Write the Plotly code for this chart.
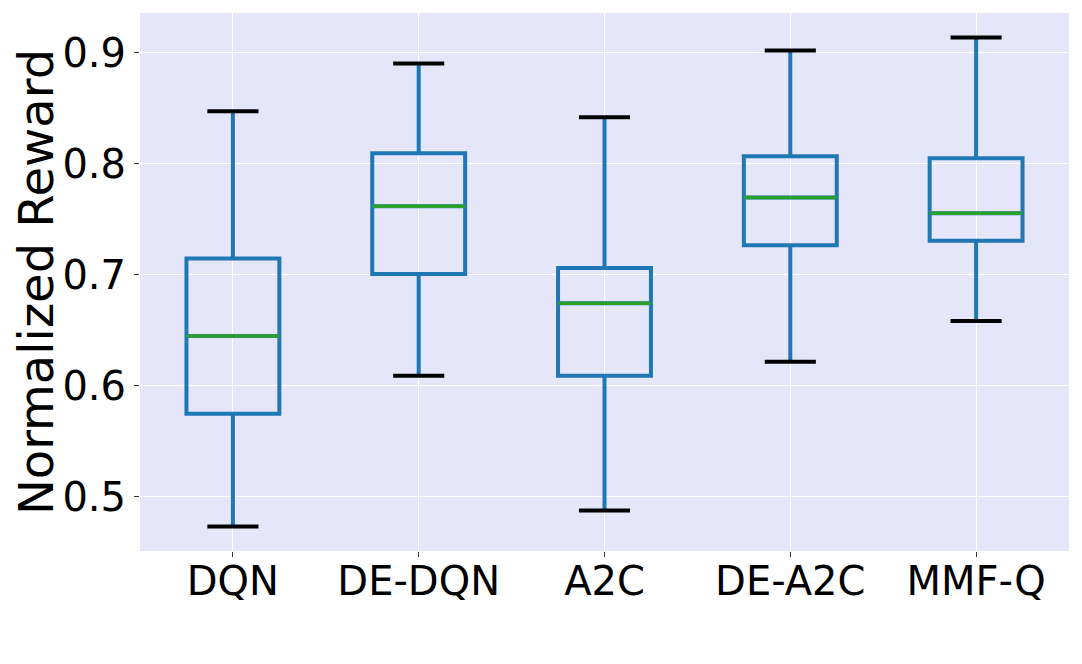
import plotly.graph_objects as go

categories = ["DQN", "DE-DQN", "A2C", "DE-A2C", "MMF-Q"]
lower_whisker = [0.4731, 0.6089, 0.4875, 0.6215, 0.6584]
q1_values = [0.5747, 0.7006, 0.6089, 0.7265, 0.7306]
median_values = [0.6449, 0.7618, 0.6743, 0.7696, 0.7555]
q3_values = [0.7147, 0.8094, 0.7060, 0.8067, 0.8050]
upper_whisker = [0.8472, 0.8904, 0.8418, 0.9020, 0.9138]
y_ticks = [0.5, 0.6, 0.7, 0.8, 0.9]
y_title = "Normalized Reward"

BLUE = "#1f77b4"
GREEN = "#2ca02c"
BOX_W = 0.5
CAP_W = 0.275

positions = list(range(1, len(categories) + 1))

fig = go.Figure()
fig.add_trace(go.Box(
    x=positions,
    q1=q1_values,
    median=median_values,
    q3=q3_values,
    lowerfence=lower_whisker,
    upperfence=upper_whisker,
    width=BOX_W,
    whiskerwidth=0,
    line=dict(color=BLUE, width=4),
    fillcolor="rgba(0,0,0,0)",
    boxpoints=False,
    hoverinfo="skip",
    showlegend=False,
))

mx, my = [], []
for p, m in zip(positions, median_values):
    mx += [p - BOX_W / 2, p + BOX_W / 2, None]
    my += [m, m, None]
fig.add_trace(go.Scatter(x=mx, y=my, mode="lines",
                         line=dict(color=GREEN, width=3.5),
                         showlegend=False, hoverinfo="skip"))

cx, cy = [], []
for p, lo, hi in zip(positions, lower_whisker, upper_whisker):
    cx += [p - CAP_W / 2, p + CAP_W / 2, None, p - CAP_W / 2, p + CAP_W / 2, None]
    cy += [lo, lo, None, hi, hi, None]
fig.add_trace(go.Scatter(x=cx, y=cy, mode="lines",
                         line=dict(color="black", width=4),
                         showlegend=False, hoverinfo="skip"))

ymin = min(lower_whisker)
ymax = max(upper_whisker)
pad = 0.05 * (ymax - ymin)

fig.update_layout(
    width=1074, height=656,
    margin=dict(l=132, r=13, t=5, b=113),
    paper_bgcolor="white",
    plot_bgcolor="#E6E6FA",
    font=dict(family="DejaVu Sans", color="black", size=40),
    showlegend=False,
)
fig.update_xaxes(
    range=[0.5, len(categories) + 0.5],
    tickmode="array", tickvals=positions, ticktext=categories,
    ticks="outside", ticklen=5, tickwidth=1, tickcolor="#333333",
    ticklabelstandoff=-10,
    showgrid=True, gridcolor="white", gridwidth=1.2,
    zeroline=False, showline=False, automargin=False,
    tickfont=dict(size=40),
)
fig.update_yaxes(
    range=[ymin - pad, ymax + pad],
    tickmode="array", tickvals=y_ticks, ticktext=[f"{v:.1f}" for v in y_ticks],
    ticks="outside", ticklen=5, tickwidth=1, tickcolor="#333333",
    showgrid=True, gridcolor="white", gridwidth=1.2,
    zeroline=False, showline=False, automargin=False,
    tickfont=dict(size=40),
    title=dict(text=y_title, font=dict(size=48), standoff=26),
)

fig.write_html("out.html")
